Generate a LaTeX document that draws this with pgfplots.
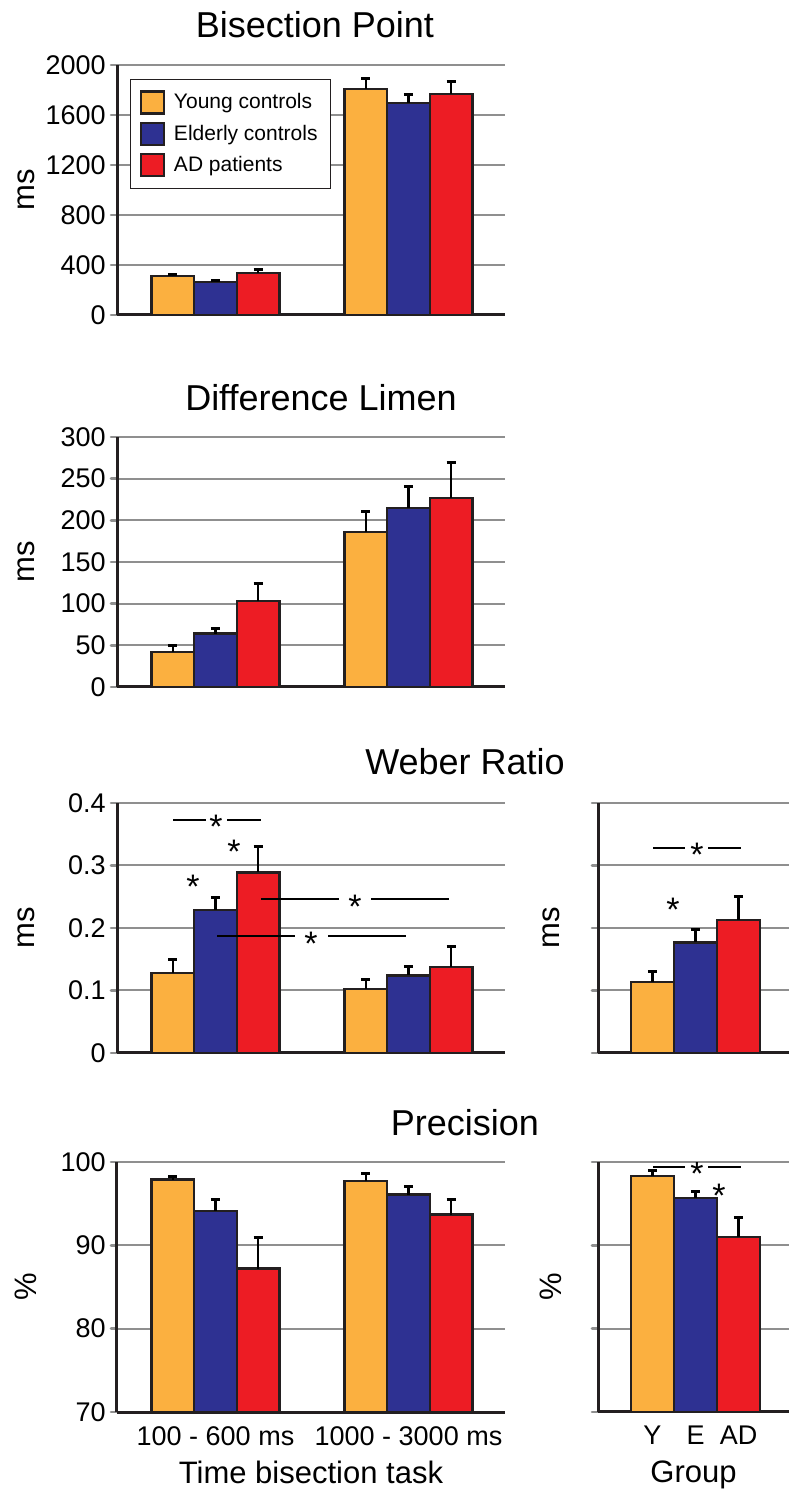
\documentclass[border=0pt]{standalone}
\usepackage{fontspec}
\setmainfont{Liberation Sans}
\usepackage{pgfplots}
\pgfplotsset{compat=1.18}
\definecolor{cyel}{HTML}{FBB040}
\definecolor{cblu}{HTML}{2E3192}
\definecolor{cred}{HTML}{ED1C24}
\definecolor{bdark}{HTML}{231F20}
\definecolor{gridg}{HTML}{8F8F8F}

\tikzset{sigstar/.style={font=\fontsize{17}{20}\selectfont, inner sep=0pt, anchor=center, yshift=-3.6pt}}

\pgfplotsset{
  panel/.style={
    scale only axis, anchor=south west,
    height=125pt,
    ybar=0pt,
    axis x line*=bottom, axis y line*=left,
    axis line style={-, line width=1.5pt, draw=bdark},
    ymajorgrids, grid style={line width=1pt, draw=gridg},
    xtick style={draw=none},
    ytick style={draw=gridg, line width=1.3pt, line cap=round},
    tick align=outside, major tick length=3pt,
    tick label style={font=\fontsize{13.5}{16}\selectfont},
    yticklabel style={inner xsep=2.5pt},
    label style={font=\fontsize{15.5}{18}\selectfont},
    xticklabel style={anchor=base, yshift=-13.5pt},
    xlabel style={at={(axis description cs:0.5,0)}, anchor=base, yshift=-35.5pt},
  },
  leftp/.style={panel, width=194pt, xmin=0.4896, xmax=2.5, bar width=0.2212,
    ylabel style={at={(axis description cs:-0.2345,0.5)}, anchor=center}},
  rightp/.style={panel, width=95.5pt, xmin=-0.267, xmax=4.174, bar width=1,
    yticklabels={},
    ylabel style={at={(axis description cs:-0.246,0.5)}, anchor=center}},
  eb/.style={draw=bdark, line width=1.2pt,
    error bars/.cd, y dir=plus, y explicit,
    error bar style={line width=1.3pt, black},
    error mark options={rotate=90, line width=1.5pt, mark size=2.3pt, black}},
}

\begin{document}
\begin{tikzpicture}
\path[use as bounding box] (0,0) rectangle (394.5pt,744.5pt);

% titles
\node[font=\fontsize{18}{21}\selectfont] at (157.5pt,732pt) {Bisection Point};
\node[font=\fontsize{18}{21}\selectfont] at (160.5pt,545.5pt) {Difference Limen};
\node[font=\fontsize{18}{21}\selectfont] at (232.5pt,363.5pt) {Weber Ratio};
\node[font=\fontsize{18}{21}\selectfont] at (232.5pt,183pt) {Precision};

% Bisection point
\begin{axis}[leftp, at={(58.5pt,587pt)},
  ymin=0, ymax=2000, ytick={0,400,800,1200,1600,2000},
  yticklabels={0,400,800,1200,1600,2000}, xtick=\empty, ylabel={ms},
  legend style={at={(rel axis cs:0.0335,0.944)}, anchor=north west,
    draw=bdark, line width=0.6pt, font=\fontsize{10.5}{12}\selectfont,
    inner xsep=4.5pt, inner ysep=5pt, row sep=2.5pt,
    /tikz/every odd column/.append style={column sep=2.5pt}},
  legend cell align=left,
  legend image code/.code={\draw[#1, line width=1.2pt] (0pt,-5.5pt) rectangle (11.5pt,5.5pt);}]
\addplot[fill=cyel, eb] coordinates {(1,310) +- (0,15) (2,1808) +- (0,80)};
\addplot[fill=cblu, eb] coordinates {(1,264) +- (0,12) (2,1696) +- (0,64)};
\addplot[fill=cred, eb] coordinates {(1,336) +- (0,24) (2,1768) +- (0,96)};
\legend{Young controls, Elderly controls, AD patients}
\end{axis}

% Difference limen
\begin{axis}[leftp, at={(58.5pt,401pt)},
  ymin=0, ymax=300, ytick={0,50,100,150,200,250,300},
  yticklabels={0,50,100,150,200,250,300}, xtick=\empty, ylabel={ms}]
\addplot[fill=cyel, eb] coordinates {(1,42) +- (0,8) (2,186) +- (0,24)};
\addplot[fill=cblu, eb] coordinates {(1,64) +- (0,6) (2,215) +- (0,26)};
\addplot[fill=cred, eb] coordinates {(1,103) +- (0,21) (2,227) +- (0,42)};
\end{axis}

% Weber ratio, by task
\begin{axis}[leftp, at={(58.5pt,218pt)},
  ymin=0, ymax=0.4, ytick={0,0.1,0.2,0.3,0.4},
  yticklabels={0,0.1,0.2,0.3,0.4}, xtick=\empty, ylabel={ms}]
\addplot[fill=cyel, eb] coordinates {(1,0.128) +- (0,0.022) (2,0.102) +- (0,0.015)};
\addplot[fill=cblu, eb] coordinates {(1,0.229) +- (0,0.019) (2,0.124) +- (0,0.014)};
\addplot[fill=cred, eb] coordinates {(1,0.289) +- (0,0.042) (2,0.138) +- (0,0.033)};
\draw[line width=1.1pt] (axis cs:0.780,0.373) -- (axis cs:0.951,0.373)
  (axis cs:1.060,0.373) -- (axis cs:1.236,0.373);
\node[sigstar] at (axis cs:1.003,0.373) {*};
\node[sigstar] at (axis cs:1.096,0.334) {*};
\node[sigstar] at (axis cs:0.883,0.278) {*};
\draw[line width=1.1pt] (axis cs:1.236,0.246) -- (axis cs:1.640,0.246)
  (axis cs:1.806,0.246) -- (axis cs:2.210,0.246);
\node[sigstar] at (axis cs:1.723,0.246) {*};
\draw[line width=1.1pt] (axis cs:1.008,0.187) -- (axis cs:1.412,0.187)
  (axis cs:1.583,0.187) -- (axis cs:1.987,0.187);
\node[sigstar] at (axis cs:1.495,0.187) {*};
\end{axis}

% Weber ratio, by group
\begin{axis}[rightp, at={(299pt,218pt)},
  ymin=0, ymax=0.4, ytick={0,0.1,0.2,0.3,0.4}, xtick=\empty, ylabel={ms}]
\addplot[fill=cyel, eb] coordinates {(2,0.114) +- (0,0.016)};
\addplot[fill=cblu, eb] coordinates {(2,0.177) +- (0,0.020)};
\addplot[fill=cred, eb] coordinates {(2,0.213) +- (0,0.037)};
\draw[line width=1.1pt] (axis cs:1.012,0.328) -- (axis cs:1.756,0.328)
  (axis cs:2.291,0.328) -- (axis cs:3.058,0.328);
\node[sigstar] at (axis cs:2.035,0.328) {*};
\node[sigstar] at (axis cs:1.477,0.240) {*};
\end{axis}

% Precision, by task
\begin{axis}[leftp, at={(58.5pt,38.5pt)},
  ymin=70, ymax=100, ytick={70,80,90,100},
  yticklabels={70,80,90,100}, xtick={1,2},
  xticklabels={100 - 600 ms, 1000 - 3000 ms},
  ylabel={\%}, xlabel={Time bisection task}]
\addplot[fill=cyel, eb] coordinates {(1,97.9) +- (0,0.4) (2,97.7) +- (0,0.9)};
\addplot[fill=cblu, eb] coordinates {(1,94.1) +- (0,1.4) (2,96.1) +- (0,0.95)};
\addplot[fill=cred, eb] coordinates {(1,87.2) +- (0,3.8) (2,93.7) +- (0,1.8)};
\end{axis}

% Precision, by group
\begin{axis}[rightp, at={(299pt,38.5pt)},
  ymin=70, ymax=100, ytick={70,80,90,100}, xtick={1,2,3},
  xticklabels={Y,E,AD}, ylabel={\%}, xlabel={Group}]
\addplot[fill=cyel, eb] coordinates {(2,98.3) +- (0,0.7)};
\addplot[fill=cblu, eb] coordinates {(2,95.7) +- (0,0.8)};
\addplot[fill=cred, eb] coordinates {(2,91.0) +- (0,2.3)};
\draw[line width=1.1pt] (axis cs:1.012,99.4) -- (axis cs:1.756,99.4)
  (axis cs:2.291,99.4) -- (axis cs:3.058,99.4);
\node[sigstar] at (axis cs:2.035,99.4) {*};
\node[sigstar] at (axis cs:2.547,96.8) {*};
\end{axis}
\end{tikzpicture}
\end{document}
